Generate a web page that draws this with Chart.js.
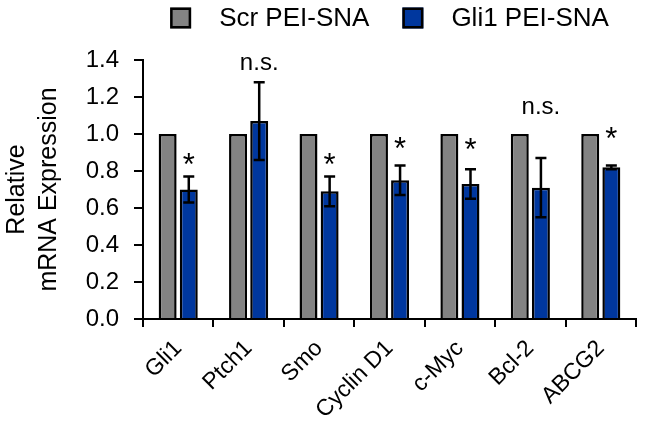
<!DOCTYPE html>
<html>
<head>
<meta charset="utf-8">
<script src="https://cdn.jsdelivr.net/npm/chart.js@4.4.0/dist/chart.umd.min.js"></script>
<style>
  html, body { margin: 0; padding: 0; background: #fff; }
  #wrap { width: 645px; height: 433px; }
</style>
</head>
<body>
<div id="wrap"><canvas id="mrnaChart" width="645" height="433"></canvas></div>
<script>
const genes = ["Gli1", "Ptch1", "Smo", "Cyclin D1", "c-Myc", "Bcl-2", "ABCG2"];
const scrValues = [1, 1, 1, 1, 1, 1, 1];
const gli1Values = [0.70, 1.07, 0.69, 0.75, 0.73, 0.71, 0.82];
const gli1Errors = [0.07, 0.21, 0.08, 0.08, 0.08, 0.16, 0.01];
const sigLabels = ["*", "n.s.", "*", "*", "*", "n.s.", "*"];
const sigLevels = [0.87, 1.38, 0.87, 0.955, 0.95, 1.14, 1.01];

const FONT = "'Liberation Sans', Arial, sans-serif";

// error bars + significance marks over the blue bars
const errorBars = {
  id: "errorBars",
  afterDatasetsDraw(chart) {
    const ctx = chart.ctx;
    const y = chart.scales.y;
    const meta = chart.getDatasetMeta(1);
    ctx.save();
    ctx.strokeStyle = "#000";
    ctx.lineWidth = 2.5;
    meta.data.forEach((bar, i) => {
      const top = y.getPixelForValue(gli1Values[i] + gli1Errors[i]);
      const bot = y.getPixelForValue(gli1Values[i] - gli1Errors[i]);
      ctx.beginPath();
      ctx.moveTo(bar.x, top); ctx.lineTo(bar.x, bot);
      ctx.moveTo(bar.x - 5.5, top); ctx.lineTo(bar.x + 5.5, top);
      ctx.moveTo(bar.x - 5.5, bot); ctx.lineTo(bar.x + 5.5, bot);
      ctx.stroke();
    });

    ctx.fillStyle = "#000";
    ctx.textAlign = "center";
    ctx.textBaseline = "alphabetic";
    meta.data.forEach((bar, i) => {
      const py = y.getPixelForValue(sigLevels[i]);
      if (sigLabels[i] === "*") {
        ctx.font = "31px " + FONT;
        ctx.fillText("*", bar.x, py + 17);
      } else {
        ctx.font = "24px " + FONT;
        ctx.fillText(sigLabels[i], bar.x, py + 6);
      }
    });
    ctx.restore();
  }
};

// legend with boxes, centred over the plot area
const boxLegend = {
  id: "boxLegend",
  afterDraw(chart) {
    const ctx = chart.ctx;
    const area = chart.chartArea;
    const sets = chart.data.datasets;
    const box = 21, textGap = 28, itemGap = 33, cy = 18;
    ctx.save();
    ctx.font = "26px " + FONT;
    const widths = sets.map(d => ctx.measureText(d.label).width);
    let total = 0;
    widths.forEach((w, i) => { total += box + textGap + w + (i ? itemGap : 0); });
    let x = (area.left + area.right) / 2 - total / 2;
    ctx.textBaseline = "middle";
    ctx.textAlign = "left";
    sets.forEach((d, i) => {
      ctx.fillStyle = d.backgroundColor;
      ctx.fillRect(x, cy - box / 2, box, box);
      ctx.strokeStyle = "#000";
      ctx.lineWidth = 2.5;
      ctx.strokeRect(x + 1.25, cy - box / 2 + 1.25, box - 2.5, box - 2.5);
      ctx.fillStyle = "#000";
      ctx.fillText(d.label, x + box + textGap, cy + 1);
      x += box + textGap + widths[i] + itemGap;
    });
    ctx.restore();
  }
};

const ctx = document.getElementById("mrnaChart").getContext("2d");
new Chart(ctx, {
  type: "bar",
  data: {
    labels: genes,
    datasets: [
      {
        label: "Scr PEI-SNA",
        data: scrValues,
        backgroundColor: "#838383",
        borderColor: "#000",
        borderWidth: 2.5
      },
      {
        label: "Gli1 PEI-SNA",
        data: gli1Values,
        backgroundColor: "#00379e",
        borderColor: "#000",
        borderWidth: 2.5
      }
    ]
  },
  options: {
    responsive: false,
    animation: false,
    devicePixelRatio: 1,
    layout: { padding: { left: 0, right: 9, top: 60, bottom: 0 } },
    datasets: {
      bar: { categoryPercentage: 0.6, barPercentage: 0.85 }
    },
    plugins: {
      tooltip: { enabled: false },
      legend: { display: false }
    },
    scales: {
      x: {
        afterFit(scale) { scale.height = 114; },
        border: { color: "#000", width: 2 },
        grid: { drawOnChartArea: false, color: "#000", lineWidth: 2, tickLength: 8 },
        ticks: {
          color: "#000",
          font: { family: FONT, size: 23 },
          minRotation: 45,
          maxRotation: 45,
          padding: 8
        }
      },
      y: {
        min: 0,
        max: 1.4,
        afterFit(scale) { scale.width = 143; },
        border: { color: "#000", width: 2 },
        grid: { drawOnChartArea: false, color: "#000", lineWidth: 2, tickLength: 9 },
        ticks: {
          stepSize: 0.2,
          color: "#000",
          font: { family: FONT, size: 24 },
          padding: 15,
          callback: v => Number(v).toFixed(1)
        },
        title: {
          display: true,
          text: ["Relative", "mRNA Expression"],
          color: "#000",
          font: { family: FONT, size: 25, lineHeight: 1.28 },
          padding: { top: 1, bottom: 0 }
        }
      }
    }
  },
  plugins: [errorBars, boxLegend]
});
</script>
</body>
</html>
